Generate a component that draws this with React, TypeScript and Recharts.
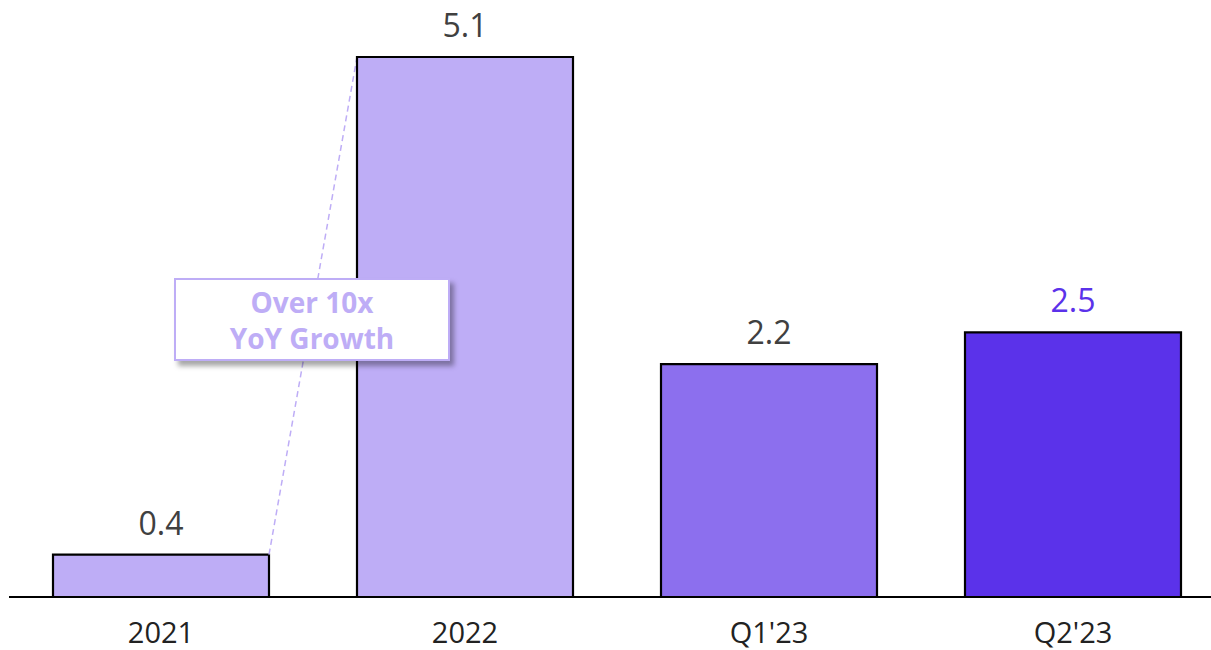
import React from 'react';
import { BarChart, Bar, XAxis, YAxis, Cell, LabelList, Rectangle } from 'recharts';

const categories = ['2021', '2022', "Q1'23", "Q2'23"];
const values = [0.4, 5.1, 2.2, 2.5];
const barColors = ['#BEADF6', '#BEADF6', '#8C6FEE', '#5B32EA'];
const labelColors = ['#404040', '#404040', '#404040', '#5B32EA'];
const calloutLines = ['Over 10x', 'YoY Growth'];

const FONT = '"Open Sans", "Noto Sans", sans-serif';

const chartData = categories.map((name, i) => ({ name, value: values[i] }));

// bar corners get recorded as they render so the growth line can link 2021 -> 2022
const barGeom: Record<number, { x: number; y: number; width: number; height: number }> = {};

function BarShape(props: any) {
    const { x, y, width, height, index, fill } = props;
    barGeom[index] = { x, y, width, height };
    const prev = barGeom[index - 1];
    return (
        <g>
            {index === 1 && prev && (
                <line
                    x1={prev.x + prev.width}
                    y1={prev.y}
                    x2={x}
                    y2={y}
                    stroke="#BEADF6"
                    strokeWidth={1.5}
                    strokeDasharray="6 4"
                />
            )}
            <Rectangle x={x} y={y} width={width} height={height} fill={fill} stroke="#000" strokeWidth={2.2} />
        </g>
    );
}

function ValueLabel(props: any) {
    const { x, y, width, value, index } = props;
    return (
        <text
            x={x + width / 2}
            y={y - 20}
            textAnchor="middle"
            fontFamily={FONT}
            fontSize={32}
            fill={labelColors[index]}
        >
            {value}
        </text>
    );
}

export default function App() {
    return (
        <div
            style={{
                position: 'absolute',
                top: 0,
                left: 0,
                width: 1211,
                height: 650,
                overflow: 'hidden',
                background: '#fff'
            }}
        >
            <BarChart
                width={1225}
                height={650}
                data={chartData}
                margin={{ top: 57, right: 0, left: 9, bottom: 0 }}
            >
                <XAxis
                    dataKey="name"
                    height={53}
                    axisLine={{ stroke: '#000', strokeWidth: 2 }}
                    tickLine={false}
                    tickMargin={19}
                    tick={{ fill: '#222', fontSize: 29, fontFamily: FONT }}
                />
                <YAxis hide domain={[0, 5.1]} />
                <Bar dataKey="value" barSize={216} shape={<BarShape />} isAnimationActive={false}>
                    {chartData.map((d, i) => (
                        <Cell key={d.name} fill={barColors[i]} />
                    ))}
                    <LabelList dataKey="value" content={<ValueLabel />} />
                </Bar>
            </BarChart>
            <div
                style={{
                    position: 'absolute',
                    left: 174,
                    top: 278,
                    width: 276,
                    height: 83,
                    boxSizing: 'border-box',
                    border: '2px solid #BEADF6',
                    background: '#fff',
                    boxShadow: '4px 5px 5px rgba(0,0,0,0.35)',
                    display: 'flex',
                    flexDirection: 'column',
                    alignItems: 'center',
                    justifyContent: 'center',
                    fontFamily: FONT,
                    fontWeight: 700,
                    fontSize: 28,
                    lineHeight: '36px',
                    color: '#BEADF6'
                }}
            >
                {calloutLines.map((line) => (
                    <div key={line}>{line}</div>
                ))}
            </div>
        </div>
    );
}
